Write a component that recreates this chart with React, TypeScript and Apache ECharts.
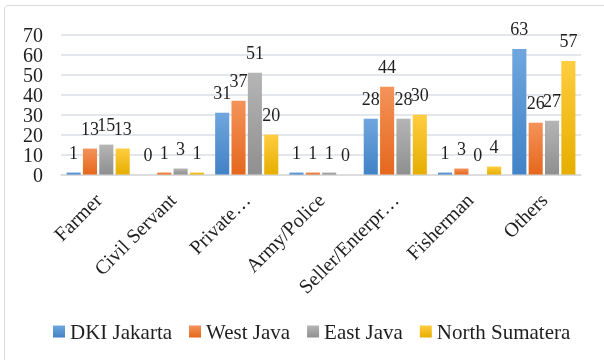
import React, { useEffect, useRef } from "react";
import * as echarts from "echarts";

// Occupations shown along the x axis (long names already shortened)
const categories = [
  "Farmer",
  "Civil Servant",
  "Private…",
  "Army/Police",
  "Seller/Enterpr…",
  "Fisherman",
  "Others",
];

const seriesNames = ["DKI Jakarta", "West Java", "East Java", "North Sumatera"];

const dkiJakarta = [1, 0, 31, 1, 28, 1, 63];
const westJava = [13, 1, 37, 1, 44, 3, 26];
const eastJava = [15, 3, 51, 1, 28, 0, 27];
const northSumatera = [13, 1, 20, 0, 30, 4, 57];

const yTicks = { min: 0, max: 70, interval: 10 };

const FONT = "Liberation Serif";
const INK = "#1f1f1f";

// top / bottom colours of each series' vertical gradient
const palette: [string, string][] = [
  ["#6fa6de", "#4282c6"],
  ["#f4935a", "#e5671c"],
  ["#b5b5b5", "#8f8f8f"],
  ["#ffcd3f", "#e6ae00"],
];

function gradient([top, bottom]: [string, string]) {
  return new echarts.graphic.LinearGradient(0, 0, 0, 1, [
    { offset: 0, color: top },
    { offset: 1, color: bottom },
  ]);
}

export default function App() {
  const ref = useRef<HTMLDivElement>(null);

  useEffect(() => {
    if (!ref.current) return;
    const chart = echarts.init(ref.current, undefined, { renderer: "svg" });
    const values = [dkiJakarta, westJava, eastJava, northSumatera];

    chart.setOption({
      animation: false,
      graphic: [
        {
          type: "rect",
          shape: { x: 4.5, y: 5.5, width: 700, height: 500, r: 4 },
          style: { fill: "none", stroke: "#d9d9d9", lineWidth: 1 },
          silent: true,
          z: -10,
        },
      ],
      grid: { left: 61, right: 23, top: 35, bottom: 185.5 },
      legend: {
        data: seriesNames,
        left: 48,
        top: 316,
        itemWidth: 12,
        itemHeight: 12,
        itemGap: 17,
        icon: "rect",
        textStyle: { fontFamily: FONT, fontSize: 21, color: INK },
      },
      xAxis: {
        type: "category",
        data: categories,
        axisLine: { show: true, lineStyle: { color: "#d9d9d9", width: 1.5 } },
        axisTick: { show: false },
        axisLabel: {
          interval: 0,
          rotate: 45,
          margin: 22,
          fontFamily: FONT,
          fontSize: 20,
          color: INK,
        },
      },
      yAxis: {
        type: "value",
        min: yTicks.min,
        max: yTicks.max,
        interval: yTicks.interval,
        axisLine: { show: false },
        axisTick: { show: false },
        splitLine: { lineStyle: { color: "#dadee4", width: 1.5 } },
        axisLabel: {
          margin: 18,
          fontFamily: FONT,
          fontSize: 20,
          lineHeight: 16,
          color: INK,
          showMinLabel: true,
          showMaxLabel: true,
        },
      },
      series: values.map((data, i) => ({
        name: seriesNames[i],
        type: "bar",
        data,
        barGap: "16%",
        barCategoryGap: "15%",
        itemStyle: { color: gradient(palette[i]) },
        label: {
          show: true,
          position: "top",
          distance: 11,
          fontFamily: FONT,
          fontSize: 18,
          color: INK,
        },
      })),
    });

    return () => chart.dispose();
  }, []);

  return (
    <div
      ref={ref}
      style={{ position: "fixed", left: 0, top: 0, width: 604, height: 360 }}
    />
  );
}
